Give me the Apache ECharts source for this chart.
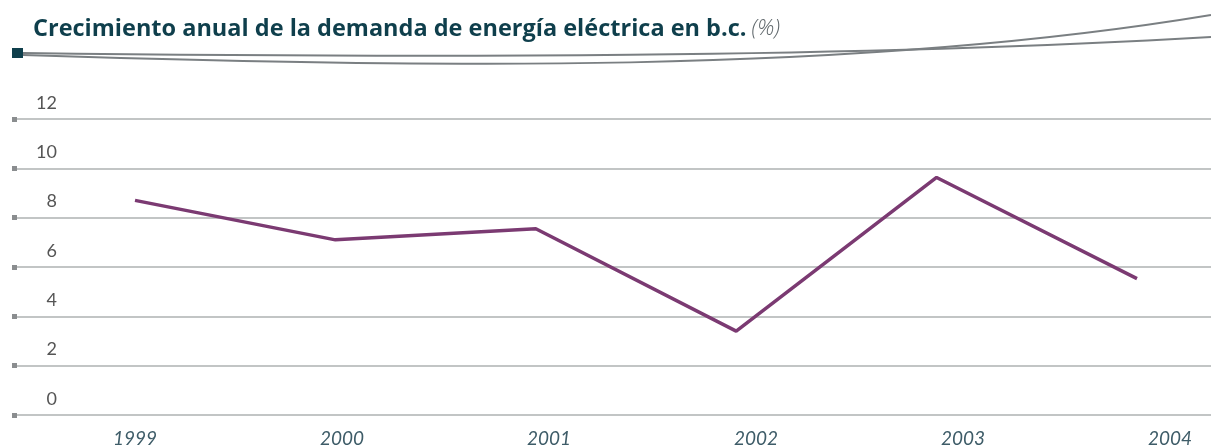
<!DOCTYPE html>
<html>
<head>
<meta charset="utf-8">
<script src="https://cdn.jsdelivr.net/npm/echarts@6/dist/echarts.min.js"></script>
<style>
  html, body { margin: 0; padding: 0; background: #fff; }
  #chart { width: 1211px; height: 447px; }
</style>
</head>
<body>
<div id="chart"></div>
<script>
// datos
const anios = ["1999", "2000", "2001", "2002", "2003", "2004"];
const crecimiento = [8.7, 7.1, 7.55, 3.4, 9.63, 5.53];
const yMin = 0;
const yMax = 12;
const yPaso = 2;

const chart = echarts.init(document.getElementById("chart"));

const fuente = "Lato, 'Open Sans', sans-serif";
const grisCurva = "#7a7f82";

const option = {
    animation: false,
    title: {
        left: 33,
        top: 17,
        padding: 0,
        text: "{b|Crecimiento anual de la demanda de energía eléctrica en b.c.} {i|(%)}",
        textStyle: {
            rich: {
                b: { fontFamily: "'Open Sans', sans-serif", fontWeight: "bold", fontSize: 23.5, color: "#0f3f4c" },
                i: { fontFamily: "'Open Sans', sans-serif", fontStyle: "italic", fontWeight: 300, fontSize: 22, color: "#5f676b" }
            }
        }
    },
    graphic: [
        { type: "rect", shape: { x: 12, y: 48, width: 11, height: 10 }, style: { fill: "#0f3f4c" } },
        {
            type: "bezierCurve",
            shape: { x1: 23, y1: 55, cpx1: 420, cpy1: 68, cpx2: 850, cpy2: 75, x2: 1211, y2: 15 },
            style: { stroke: grisCurva, lineWidth: 2, fill: null }
        },
        {
            type: "bezierCurve",
            shape: { x1: 23, y1: 53, cpx1: 420, cpy1: 58, cpx2: 850, cpy2: 58, x2: 1211, y2: 37 },
            style: { stroke: grisCurva, lineWidth: 2, fill: null }
        }
    ],
    grid: [
        { left: 17, right: 0, top: 119, bottom: 32, outerBoundsMode: "none" },
        { left: 135, right: 74, top: 119, bottom: 32, outerBoundsMode: "none" },
        { left: 135, right: 41, top: 119, bottom: 32, outerBoundsMode: "none" }
    ],
    xAxis: [
        { gridIndex: 0, type: "value", min: 0, max: 1, show: false },
        { gridIndex: 1, type: "category", data: anios, boundaryGap: false, show: false },
        {
            gridIndex: 2, type: "category", data: anios, boundaryGap: false,
            axisLine: { show: false },
            axisTick: { show: false },
            axisLabel: {
                margin: 14,
                fontFamily: fuente, fontStyle: "italic", fontSize: 19, color: "#3e5c68"
            }
        }
    ],
    yAxis: [
        {
            gridIndex: 0, type: "value", min: yMin, max: yMax, interval: yPaso,
            axisLine: { show: false },
            axisTick: { show: true, length: 5, lineStyle: { width: 5, color: "#8a8d8f" } },
            splitLine: { lineStyle: { color: "#aeb2b2", width: 1.5 } },
            axisLabel: {
                inside: true,
                margin: 40,
                align: "right",
                verticalAlign: "bottom",
                padding: [0, 0, 7, 0],
                fontFamily: fuente, fontSize: 18, color: "#555"
            }
        },
        { gridIndex: 1, type: "value", min: yMin, max: yMax, interval: yPaso, show: false },
        { gridIndex: 2, type: "value", min: yMin, max: yMax, interval: yPaso, show: false }
    ],
    series: [
        {
            type: "line",
            xAxisIndex: 1,
            yAxisIndex: 1,
            data: crecimiento,
            symbol: "none",
            lineStyle: { color: "#7b3a72", width: 3.5 }
        }
    ]
};

chart.setOption(option);
</script>
</body>
</html>
